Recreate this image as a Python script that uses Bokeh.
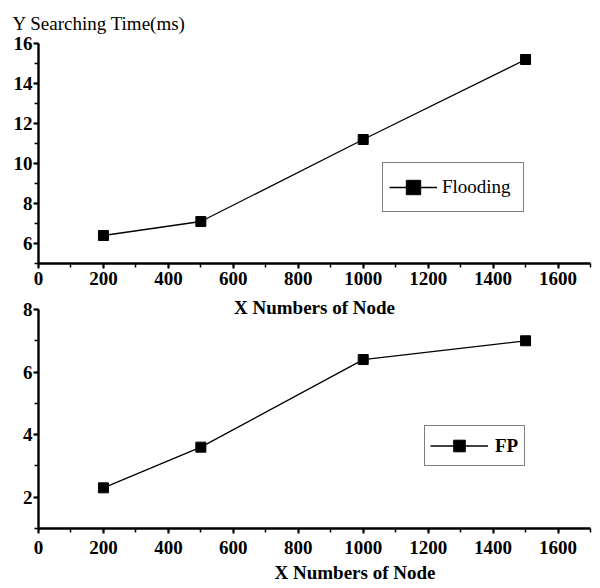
from bokeh.plotting import figure
from bokeh.models import Title, Legend, LegendItem, SingleIntervalTicker, Range1d
from bokeh.layouts import column
from bokeh.embed import file_html
from bokeh.resources import INLINE

# ---- data ----
nodes = [200, 500, 1000, 1500]
flooding = [6.4, 7.1, 11.2, 15.2]
fp = [2.3, 3.6, 6.4, 7.0]

x_ticks_interval = 200
y_ticks_interval = 2
title_text = "Y Searching Time(ms)"
x_label_text = "X Numbers of Node"

FONT = "Liberation Serif"
FS = "19px"


def style_axes(p, label_standoff_x=3):
    for ax in (p.xaxis[0], p.yaxis[0]):
        ax.axis_line_width = 2.4
        ax.axis_line_color = "black"
        ax.major_tick_line_width = 2
        ax.major_tick_line_color = "black"
        ax.major_tick_out = 5
        ax.major_tick_in = 0
        ax.minor_tick_line_width = 1.5
        ax.minor_tick_line_color = "black"
        ax.minor_tick_out = 4
        ax.minor_tick_in = 0
        ax.major_label_text_font = FONT
        ax.major_label_text_font_size = FS
        ax.major_label_text_font_style = "bold"
        ax.major_label_text_color = "black"
        ax.axis_label_text_font = FONT
        ax.axis_label_text_font_size = FS
        ax.axis_label_text_font_style = "bold"
        ax.axis_label_text_color = "black"
    p.xaxis[0].ticker = SingleIntervalTicker(interval=x_ticks_interval, num_minor_ticks=2)
    p.yaxis[0].ticker = SingleIntervalTicker(interval=y_ticks_interval, num_minor_ticks=2)
    p.yaxis[0].major_label_standoff = 1
    p.xaxis[0].major_label_standoff = label_standoff_x
    p.xgrid.visible = False
    p.ygrid.visible = False
    p.outline_line_color = None


# ---- top plot ----
p1 = figure(width=600, height=321, x_range=Range1d(0, 1700), y_range=Range1d(5, 16),
            output_backend="svg", toolbar_location=None,
            min_border_left=38, min_border_right=9, min_border_top=43, min_border_bottom=58)
p1.title.text = title_text
p1.title.align = "left"
p1.title.offset = -26
p1.title.standoff = 19
p1.title.text_font = FONT
p1.title.text_font_size = FS
p1.title.text_font_style = "normal"
p1.title.text_color = "black"
style_axes(p1, 3)
p1.xaxis[0].axis_label = x_label_text
p1.xaxis[0].axis_label_standoff = 9

r1 = p1.line(nodes, flooding, line_color="black", line_width=1.3)
s1 = p1.scatter(nodes, flooding, marker="square", size=10, color="black")
leg1 = Legend(items=[LegendItem(label="Flooding", renderers=[r1, s1])],
              location=(344, 51), padding=6, margin=0, spacing=0,
              glyph_width=48, glyph_height=36, label_width=75, label_height=36,
              label_standoff=5, border_line_color="black", border_line_width=1.5,
              label_text_font=FONT, label_text_font_size=FS, label_text_color="black",
              background_fill_alpha=1)
p1.add_layout(leg1)

# ---- bottom plot ----
p2 = figure(width=600, height=292, x_range=Range1d(0, 1700), y_range=Range1d(1, 8),
            output_backend="svg", toolbar_location=None,
            min_border_left=37, min_border_right=10, min_border_top=13, min_border_bottom=60,
            margin=(-25, 0, 0, 0), background_fill_alpha=0, border_fill_alpha=0)
style_axes(p2, 7)
r2 = p2.line(nodes, fp, line_color="black", line_width=1.3)
s2 = p2.scatter(nodes, fp, marker="square", size=10, color="black")
leg2 = Legend(items=[LegendItem(label="FP", renderers=[r2, s2])],
              location=(386, 62), padding=5, margin=0, spacing=0,
              glyph_width=58, glyph_height=29, label_width=24, label_height=29,
              label_standoff=7, border_line_color="black", border_line_width=1.5,
              label_text_font=FONT, label_text_font_size=FS, label_text_font_style="bold",
              label_text_color="black", background_fill_alpha=1)
p2.add_layout(leg2)
p2.add_layout(Title(text=x_label_text, align="left", offset=236, standoff=7,
                    text_font=FONT, text_font_size=FS, text_font_style="bold",
                    text_color="black"), "below")

layout = column(p1, p2, spacing=0)
open("out.html", "w").write(file_html(layout, INLINE))
